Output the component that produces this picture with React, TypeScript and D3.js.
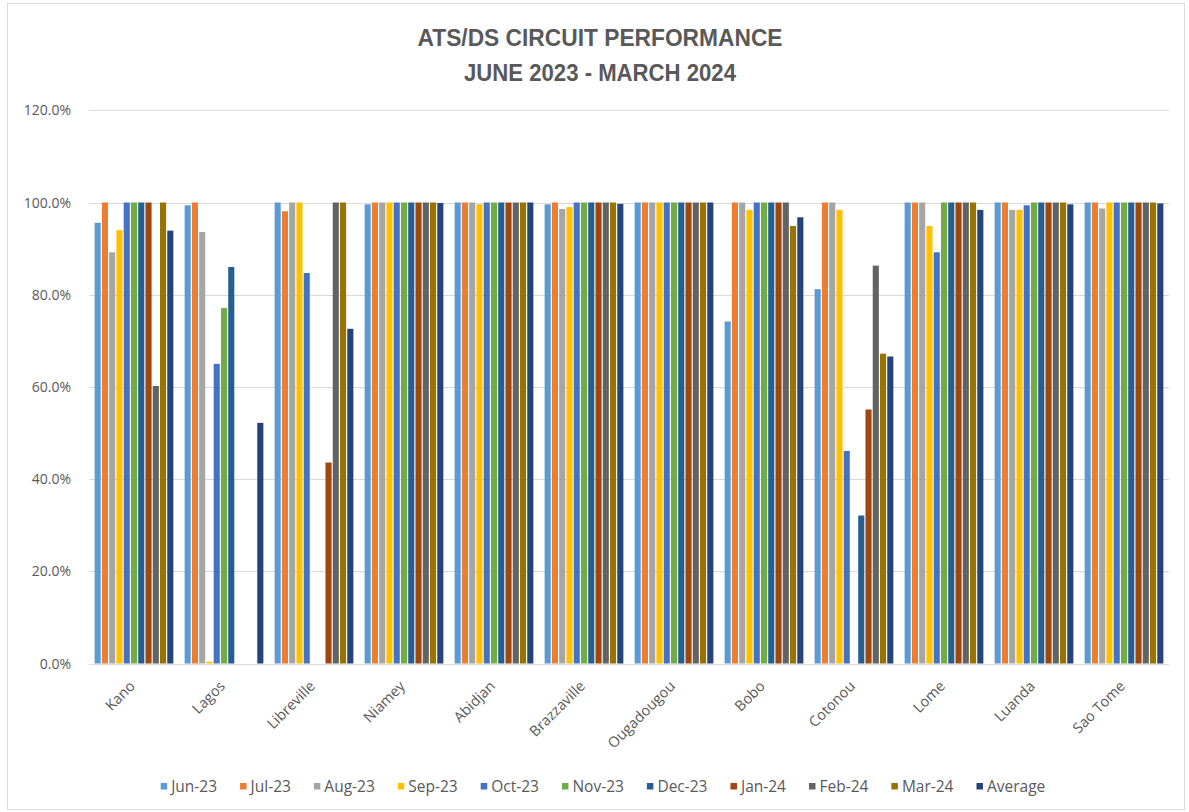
import React, { useEffect, useRef } from "react";
import * as d3 from "d3";

const categories = ["Kano", "Lagos", "Libreville", "Niamey", "Abidjan", "Brazzaville", "Ougadougou", "Bobo", "Cotonou", "Lome", "Luanda", "Sao Tome"];
const seriesNames = ["Jun-23", "Jul-23", "Aug-23", "Sep-23", "Oct-23", "Nov-23", "Dec-23", "Jan-24", "Feb-24", "Mar-24", "Average"];
const seriesColors = ["#5B9BD5", "#ED7D31", "#A5A5A5", "#FFC000", "#4472C4", "#70AD47", "#255E91", "#9E480E", "#636363", "#997300", "#264478"];

// values in %, one array per series, in category order
const jun23 = [95.6, 99.4, 100, 99.6, 100, 99.6, 100, 74.2, 81.2, 100, 100, 100];
const jul23 = [100, 100, 98.1, 100, 100, 100, 100, 100, 100, 100, 100, 100];
const aug23 = [89.2, 93.6, 100, 100, 100, 98.6, 100, 100, 100, 100, 98.4, 98.7];
const sep23 = [94.0, 0.4, 100, 100, 99.6, 99.0, 100, 98.4, 98.4, 94.9, 98.4, 100];
const oct23 = [100, 65.0, 84.7, 100, 100, 100, 100, 100, 46.1, 89.2, 99.4, 100];
const nov23 = [100, 77.1, 0, 100, 100, 100, 100, 100, 0, 100, 100, 100];
const dec23 = [100, 86.0, 0, 100, 100, 100, 100, 100, 32.1, 100, 100, 100];
const jan24 = [100, 0, 43.6, 100, 100, 100, 100, 100, 55.1, 100, 100, 100];
const feb24 = [60.2, 0, 100, 100, 100, 100, 100, 100, 86.3, 100, 100, 100];
const mar24 = [100, 0, 100, 100, 100, 100, 100, 94.9, 67.2, 100, 100, 100];
const average = [93.9, 52.2, 72.6, 99.9, 100, 99.7, 100, 96.8, 66.6, 98.4, 99.6, 99.8];

const seriesValues = [jun23, jul23, aug23, sep23, oct23, nov23, dec23, jan24, feb24, mar24, average];
const yTicks = [0, 20, 40, 60, 80, 100, 120];
const titleLines = ["ATS/DS CIRCUIT PERFORMANCE", "JUNE 2023 - MARCH 2024"];

const W = 1189;
const H = 812;
const TEXT = "#595959";
const GRID = "#d9d9d9";
const FONT = "'Open Sans', 'Noto Sans', sans-serif";

export default function App() {
  const ref = useRef<SVGSVGElement | null>(null);

  useEffect(() => {
    document.body.style.margin = "0";
    const svg = d3.select(ref.current);
    svg.selectAll("*").remove();

    const left = 89, right = 1169, top = 110.3, bottom = 663.5;

    svg.append("rect").attr("x", 0).attr("y", 0).attr("width", W).attr("height", H).attr("fill", "#fff");
    svg.append("rect").attr("x", 7.5).attr("y", 3.5).attr("width", W - 12).attr("height", H - 6)
      .attr("fill", "none").attr("stroke", GRID);

    // title
    const titleWidths = [365, 272];
    titleLines.forEach((t, i) => {
      svg.append("text").attr("x", 600).attr("y", 45.5 + i * 35.5)
        .attr("text-anchor", "middle")
        .attr("font-family", "'Liberation Sans', Arial, sans-serif")
        .attr("font-weight", "bold").attr("font-size", 23.5).attr("fill", TEXT)
        .attr("textLength", titleWidths[i]).attr("lengthAdjust", "spacingAndGlyphs")
        .text(t);
    });

    const y = d3.scaleLinear().domain([0, 120]).range([bottom, top]);
    const x0 = d3.scaleBand<string>().domain(categories).range([left, right]).paddingInner(0.125).paddingOuter(0.0625);
    const x1 = d3.scaleBand<string>().domain(seriesNames).range([0, x0.bandwidth()]).paddingInner(0.16);
    const color = d3.scaleOrdinal<string, string>().domain(seriesNames).range(seriesColors);

    // gridlines
    svg.append("g").selectAll("line").data(yTicks).join("line")
      .attr("x1", left).attr("x2", right)
      .attr("y1", (d) => Math.round(y(d)) + 0.5).attr("y2", (d) => Math.round(y(d)) + 0.5)
      .attr("stroke", GRID).attr("stroke-width", 1);

    // y labels
    svg.append("g").selectAll("text").data(yTicks).join("text")
      .attr("x", 71).attr("y", (d) => y(d)).attr("dy", "0.36em")
      .attr("text-anchor", "end").attr("font-family", FONT).attr("font-size", 14).attr("fill", TEXT)
      .text((d) => d3.format(".1f")(d) + "%");

    // bars
    const groups = svg.append("g").selectAll("g").data(categories).join("g")
      .attr("transform", (c) => `translate(${x0(c)},0)`);
    groups.selectAll("rect")
      .data((c, ci) => seriesNames.map((s, si) => ({ s, v: seriesValues[si][ci] })))
      .join("rect")
      .attr("x", (d) => x1(d.s)!)
      .attr("width", x1.bandwidth())
      .attr("y", (d) => y(d.v))
      .attr("height", (d) => y(0) - y(d.v))
      .attr("fill", (d) => color(d.s));

    // category labels
    svg.append("g").selectAll("text").data(categories).join("text")
      .attr("transform", (c) => `translate(${x0(c)! + x0.bandwidth() / 2 + 2},${687}) rotate(-45)`)
      .attr("text-anchor", "end").attr("font-family", FONT).attr("font-size", 14.5).attr("fill", TEXT)
      .text((c) => c);

    // legend
    const leg = svg.append("g");
    const items = leg.selectAll("g").data(seriesNames).join("g");
    items.append("rect").attr("width", 6.5).attr("height", 6.5).attr("y", -8.5).attr("fill", (d) => color(d));
    items.append("text").attr("x", 10.5).attr("font-family", FONT).attr("font-size", 15.5).attr("fill", TEXT).text((d) => d);
    const gap = 23;
    let cx = 0;
    const offs: number[] = [];
    items.each(function () {
      offs.push(cx);
      const t = (this as SVGGElement).querySelector("text") as SVGTextElement;
      cx += 10.5 + t.getComputedTextLength() + gap;
    });
    const total = cx - gap;
    const start = 603 - total / 2;
    items.attr("transform", (d, i) => `translate(${start + offs[i]},${791.5})`);
  }, []);

  return <svg ref={ref} width={W} height={H} style={{ display: "block" }} />;
}
